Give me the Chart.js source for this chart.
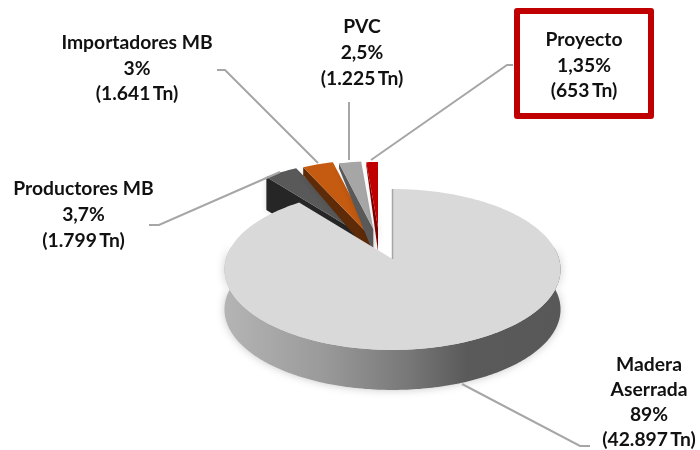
<!DOCTYPE html>
<html>
<head>
<meta charset="utf-8">
<style>
  html, body { margin: 0; padding: 0; background: #fff; }
  canvas { display: block; }
</style>
<script src="https://cdn.jsdelivr.net/npm/chart.js@4/dist/chart.umd.min.js"></script>
</head>
<body>
<canvas id="pie" width="700" height="450"></canvas>
<script>
// share of supply per source, clockwise from 12 o'clock
var categories = [["Madera", "Aserrada"], ["Productores MB"], ["Importadores MB"], ["PVC"], ["Proyecto"]];
var shares = [89, 3.7, 3, 2.5, 1.35];
var tons = [42897, 1799, 1641, 1225, 653];

// styling of each slice
var topColors = ["#d9d9d9", "#595959", "#c55a11", "#a6a6a6", "#c00000"];
var wallColors = [null, "#262626", "#5e2b08", "#595959", "#7a0000"];
var apexes = [[392.5, 259], [359, 233], [373, 239], [373.3, 229], [378, 227.6]];
var radiusFactors = [1, 0.9, 1, 0.855, 0.83];
var perspective = [0.13, 0, 0, 0, 0];
var wallDepths = [[40, 40], [33, 33], [8, 18], [5, 24], [3, 24]];
var drawOrder = [1, 2, 3, 4, 0];

var RX = 166.6;
var RY = 79.1;

// label placement: centre x, first line y, line height
var labelPos = [[649, 365, 25], [83.5, 189, 26], [137, 43, 25.5], [362, 27, 26], [584, 40, 25.5]];
var leaders = [
  [[462, 384], [580, 446], [590, 446]],
  [[149, 225], [159, 225], [280, 172]],
  [[217, 70], [225, 70], [318, 163]],
  [[349, 102], [349, 160]],
  [[513, 65], [507, 65], [371, 160]]
];

function pctText(v) {
  return String(v).replace(".", ",") + "%";
}
function tonText(v) {
  return "(" + String(v).replace(/\B(?=(\d{3})+$)/g, ".") + "\u2009Tn)";
}

// point on a tilted disc, a = canvas angle, r = fraction of the radius
function project(i, a, r) {
  var u = Math.cos(a) * r;
  var v = Math.sin(a) * r;
  var s = 1 / (1 - perspective[i] * v);
  return [apexes[i][0] + RX * u * s, apexes[i][1] + RY * v * s];
}

function traceArc(ctx, i, from, to, shift) {
  var steps = Math.max(8, Math.ceil(Math.abs(to - from) * 60));
  for (var k = 0; k <= steps; k++) {
    var p = project(i, from + (to - from) * k / steps, radiusFactors[i]);
    ctx.lineTo(p[0], p[1] + shift);
  }
}

function drawBigWall(ctx, i) {
  var grad = ctx.createLinearGradient(226, 0, 560, 0);
  grad.addColorStop(0, "#b4b4b4");
  grad.addColorStop(0.3, "#999999");
  grad.addColorStop(0.55, "#777777");
  grad.addColorStop(0.72, "#5a5a5a");
  grad.addColorStop(1, "#585858");

  ctx.save();
  ctx.shadowColor = "rgba(0,0,0,0.22)";
  ctx.shadowBlur = 9;
  ctx.fillStyle = grad;
  ctx.beginPath();
  traceArc(ctx, i, -0.15, Math.PI + 0.15, 0);
  traceArc(ctx, i, Math.PI + 0.15, -0.15, wallDepths[i][0]);
  ctx.closePath();
  ctx.fill();
  ctx.restore();
}

// the cut face that looks towards the viewer, from the outer corner to the apex
function drawCutWall(ctx, i, startAngle) {
  var outer = project(i, startAngle, radiusFactors[i]);
  var apex = apexes[i];
  ctx.save();
  ctx.shadowColor = "rgba(0,0,0,0.14)";
  ctx.shadowBlur = 6;
  ctx.fillStyle = wallColors[i];
  ctx.beginPath();
  ctx.moveTo(outer[0], outer[1]);
  ctx.lineTo(apex[0], apex[1]);
  ctx.lineTo(apex[0], apex[1] + wallDepths[i][1]);
  ctx.lineTo(outer[0], outer[1] + wallDepths[i][0]);
  ctx.closePath();
  ctx.fill();
  ctx.restore();
}

function drawTop(ctx, i, startAngle, endAngle) {
  ctx.fillStyle = topColors[i];
  ctx.beginPath();
  ctx.moveTo(apexes[i][0], apexes[i][1]);
  traceArc(ctx, i, startAngle, endAngle, 0);
  ctx.closePath();
  ctx.fill();
}

// replaces the flat arcs: uses the angles Chart.js worked out from the shares
var tiltedPie = {
  id: "tiltedPie",
  beforeDatasetDraw: function(chart) {
    var ctx = chart.ctx;
    var arcs = chart.getDatasetMeta(0).data;
    drawOrder.forEach(function(i) {
      var a = arcs[i].getProps(["startAngle", "endAngle"], true);
      if (i === 0) {
        drawBigWall(ctx, i);
      } else {
        drawCutWall(ctx, i, a.startAngle);
      }
      drawTop(ctx, i, a.startAngle, a.endAngle);
    });

    // thin edge on the right cut of the big slice
    var first = arcs[0].getProps(["startAngle"], true);
    var rim = project(0, first.startAngle, 1);
    ctx.strokeStyle = "#a6a6a6";
    ctx.lineWidth = 1.5;
    ctx.beginPath();
    ctx.moveTo(rim[0], rim[1]);
    ctx.lineTo(apexes[0][0], apexes[0][1]);
    ctx.stroke();
    return false;
  },
  afterDraw: function(chart) {
    var ctx = chart.ctx;

    ctx.strokeStyle = "#a6a6a6";
    ctx.lineWidth = 2;
    leaders.forEach(function(line) {
      ctx.beginPath();
      line.forEach(function(p, k) {
        if (k === 0) ctx.moveTo(p[0], p[1]); else ctx.lineTo(p[0], p[1]);
      });
      ctx.stroke();
    });

    // box around the highlighted label
    ctx.strokeStyle = "#c00000";
    ctx.lineWidth = 6;
    ctx.lineJoin = "round";
    ctx.strokeRect(517, 11, 134, 105);

    ctx.fillStyle = "#111";
    ctx.font = "bold 19.3px Lato";
    ctx.textAlign = "center";
    ctx.textBaseline = "middle";
    categories.forEach(function(name, i) {
      var lines = name.concat([pctText(shares[i]), tonText(tons[i])]);
      lines.forEach(function(text, k) {
        ctx.fillText(text, labelPos[i][0], labelPos[i][1] + k * labelPos[i][2]);
      });
    });
  }
};

new Chart(document.getElementById("pie").getContext("2d"), {
  type: "pie",
  data: {
    labels: categories.map(function(c) { return c.join(" "); }),
    datasets: [{ data: shares, backgroundColor: topColors, borderWidth: 0 }]
  },
  options: {
    responsive: false,
    animation: false,
    plugins: {
      legend: { display: false },
      tooltip: { enabled: false }
    }
  },
  plugins: [tiltedPie]
});
</script>
</body>
</html>
